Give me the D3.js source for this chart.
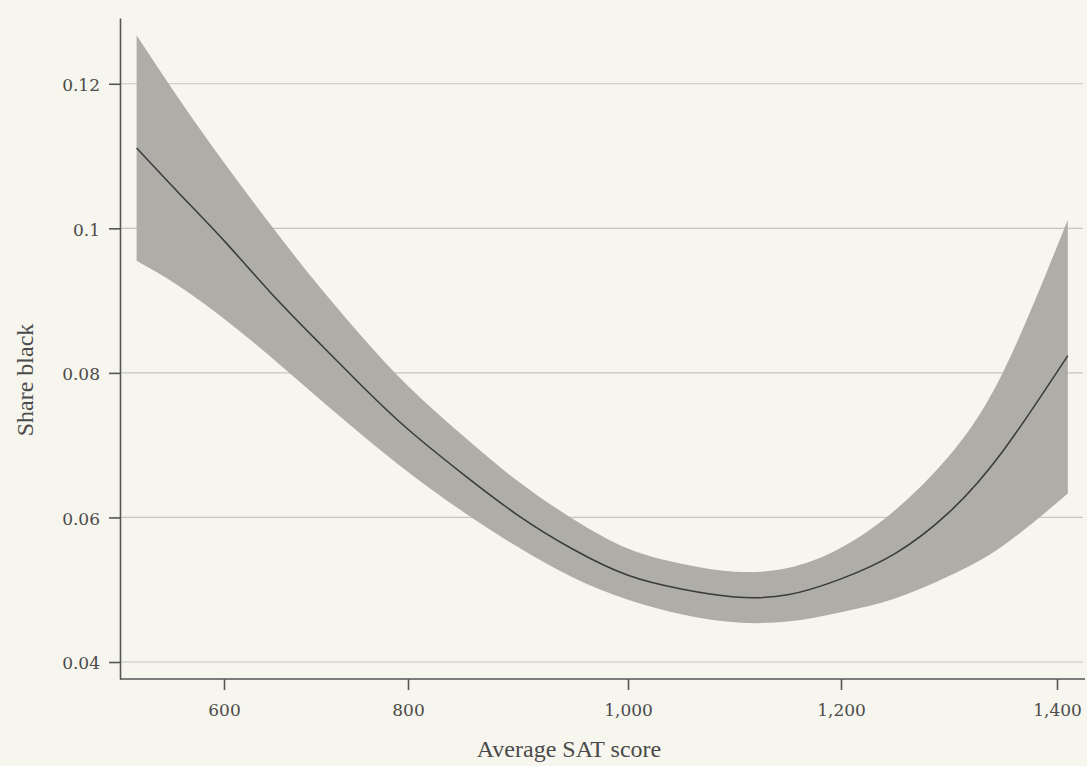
<!DOCTYPE html>
<html>
<head>
<meta charset="utf-8">
<script src="https://cdn.jsdelivr.net/npm/d3@7/dist/d3.min.js"></script>
<style>
  html, body { margin: 0; padding: 0; background: #f7f6ee; }
  svg { display: block; }
</style>
</head>
<body>
<svg id="chart" width="1087" height="766"></svg>
<script>
// ---- data ----
const satScore   = [505, 550, 600, 650, 700, 750, 800, 850, 900, 950, 1000, 1050, 1100, 1150, 1200, 1250, 1300, 1350, 1410];
const shareBlack = [0.1111, 0.1050, 0.0983, 0.0912, 0.0846, 0.0782, 0.0722, 0.0660, 0.0603, 0.0556, 0.0520, 0.0501, 0.0490, 0.0493, 0.0515, 0.0550, 0.0607, 0.0692, 0.0824];
const upperCI    = [0.1267, 0.1181, 0.1091, 0.1006, 0.0925, 0.0850, 0.0782, 0.0713, 0.0650, 0.0598, 0.0557, 0.0536, 0.0525, 0.0530, 0.0558, 0.0610, 0.0685, 0.0801, 0.1012];
const lowerCI    = [0.0955, 0.0921, 0.0875, 0.0823, 0.0768, 0.0714, 0.0663, 0.0608, 0.0559, 0.0517, 0.0486, 0.0466, 0.0455, 0.0456, 0.0469, 0.0488, 0.0519, 0.0561, 0.0633];
const xTicks = [600, 800, 1000, 1200, 1400];
const yTicks = [0.04, 0.06, 0.08, 0.1, 0.12];
const xLabel = "Average SAT score";
const yLabel = "Share black";

// ---- layout ----
const plotLeft = 120, plotRight = 1085, plotTop = 18, plotBottom = 679;
const svg = d3.select("#chart");

const x = d3.scaleLinear()
  .domain(xTicks)
  .range([224, 408, 628, 841, 1057]);
const y = d3.scaleLinear()
  .domain([0.03765, 0.1291])
  .range([plotBottom, plotTop]);

const rows = satScore.map((s, i) => ({ s, m: shareBlack[i], lo: lowerCI[i], hi: upperCI[i] }));

// gridlines
svg.append("g")
  .selectAll("line")
  .data(yTicks)
  .join("line")
  .attr("x1", plotLeft).attr("x2", 1083)
  .attr("y1", d => y(d)).attr("y2", d => y(d))
  .attr("stroke", "#c6c5bd").attr("stroke-width", 1.2);

// confidence band
svg.append("path")
  .datum(rows)
  .attr("fill", "#aeada8")
  .attr("d", d3.area()
    .x(d => x(d.s))
    .y0(d => y(d.lo))
    .y1(d => y(d.hi))
    .curve(d3.curveNatural));

// fitted line
svg.append("path")
  .datum(rows)
  .attr("fill", "none")
  .attr("stroke", "#3a3a3a")
  .attr("stroke-width", 1.5)
  .attr("d", d3.line()
    .x(d => x(d.s))
    .y(d => y(d.m))
    .curve(d3.curveNatural));

// axes
const tickFont = "'DejaVu Serif', serif";
const yAxis = svg.append("g")
  .attr("transform", `translate(${plotLeft},0)`)
  .call(d3.axisLeft(y).tickValues(yTicks).tickSize(11).tickSizeOuter(0).tickPadding(9)
    .tickFormat(d => d3.format("")(+d.toFixed(2))));
yAxis.select(".domain").attr("stroke", "#555").attr("stroke-width", 1.6);
yAxis.selectAll(".tick line").attr("stroke", "#555").attr("stroke-width", 1.6);
yAxis.selectAll(".tick text")
  .attr("font-family", tickFont).attr("font-size", 17).attr("fill", "#4a4a4a")
  .attr("dy", "0.4em");

const xAxis = svg.append("g")
  .attr("transform", `translate(0,${plotBottom})`)
  .call(d3.axisBottom(x).tickValues(xTicks).tickSize(11).tickSizeOuter(0).tickPadding(14)
    .tickFormat(d3.format(",")));
xAxis.select(".domain").remove();
xAxis.append("line")
  .attr("x1", plotLeft).attr("x2", plotRight)
  .attr("y1", 0).attr("y2", 0)
  .attr("stroke", "#555").attr("stroke-width", 1.6);
xAxis.selectAll(".tick line").attr("stroke", "#555").attr("stroke-width", 1.6);
xAxis.selectAll(".tick text")
  .attr("font-family", tickFont).attr("font-size", 17).attr("fill", "#4a4a4a");

// axis titles
svg.append("text")
  .attr("x", 569).attr("y", 757)
  .attr("text-anchor", "middle")
  .attr("font-family", "'Liberation Serif', serif")
  .attr("font-size", 24).attr("fill", "#4a4a4a")
  .text(xLabel);

svg.append("text")
  .attr("transform", "translate(33,380) rotate(-90)")
  .attr("text-anchor", "middle")
  .attr("font-family", "'Liberation Serif', serif")
  .attr("font-size", 24).attr("fill", "#4a4a4a")
  .text(yLabel);
</script>
</body>
</html>
